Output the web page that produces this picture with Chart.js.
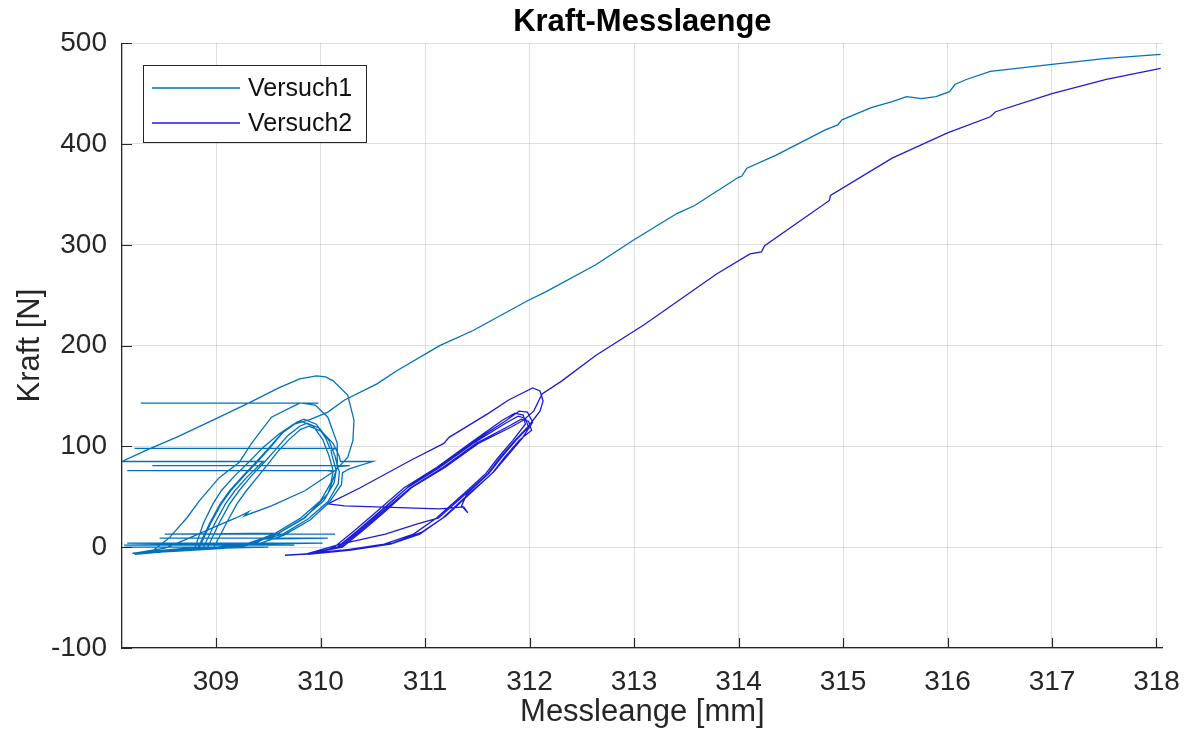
<!DOCTYPE html>
<html lang="de">
<head>
    <meta charset="UTF-8">
    <title>Kraft-Messlaenge</title>
    <script src="https://cdn.jsdelivr.net/npm/chart.js"></script>
    <style>
        body { margin: 0; background: #fff; }
        #wrap { width: 1197px; height: 738px; }
    </style>
</head>
<body>
    <div id="wrap"><canvas id="kraftChart" width="1197" height="738"></canvas></div>
    <script>
        const versuch1 = [
            [308.20,-6],[308.46,-5],
            // Zyklus 1
            [308.80,0],[308.88,24],[308.97,43],[309.05,56],[309.18,71],[309.31,84],[309.45,99],[309.60,112],
            [309.74,122],[309.81,125],[309.93,120],[310.02,107],[310.08,91],[310.12,76],
            [308.15,76],[310.07,76],[310.12,75],
            [310.10,64],[310.00,46],[309.81,29],[309.57,14],[309.33,4],[309.05,0],
            [308.13,0],[309.50,0],[309.05,-1],[308.60,-4],[308.20,-6],
            // Zyklus 2
            [308.50,-3],[308.84,0],[308.95,24],[309.05,43],[309.14,56],[309.27,71],[309.39,84],[309.52,99],
            [309.64,114],[309.77,124],[309.84,127],[309.96,122],[310.05,108],[310.09,98],
            [308.22,98],[310.14,98],[310.10,96],
            [310.11,91],[310.15,76],[310.13,64],[310.03,46],[309.84,29],[309.60,14],
            [308.51,13],[310.14,13],[309.58,13],
            [309.36,4],[308.12,2],[309.75,2],[309.30,2],
            [309.08,0],[308.70,-3],[308.22,-7],
            // Zyklus 3 (aeussere Schleife)
            [308.40,-3],[308.55,9],[308.72,29],[308.84,46],[309.03,69],[309.22,84],[309.34,103],[309.53,129],[309.80,143],
            [308.28,143],[309.98,143],[309.82,143],
            [309.95,141],[310.07,129],[310.16,103],[310.16,79],[310.07,53],[309.85,29],[309.60,14],[309.31,4],[308.93,-1],[308.30,-5],
            // Zyklus 4
            [308.60,-2],[308.92,0],[309.03,24],[309.13,43],[309.22,56],[309.34,71],[309.46,84],[309.58,98],
            [309.68,110],[309.80,120],[309.87,123],[309.99,118],[310.08,106],[310.14,90],[310.16,81],
            [308.39,81],[310.28,81],[310.16,80],
            [310.18,75],[310.17,63],[310.07,45],[309.88,28],[309.64,13],[309.50,9],
            [308.46,9],[310.07,9],[309.45,8],
            [309.38,4],[309.09,0],[308.70,-3],[308.25,-6],
            // Zyklus 5 mit grosser Schleife
            [308.55,-3],[308.88,0],[308.99,24],[309.09,43],[309.18,56],[309.30,70],[309.43,83],[309.45,85],
            [308.10,85],[308.35,97],[308.62,109],[308.95,125],[309.31,143],[309.60,158],[309.80,167],[309.96,170],
            [310.05,169],[310.12,165],[310.26,151],[310.32,126],[310.31,106],[310.26,89],[310.14,76],
            [309.85,56],[309.53,41],[309.27,31],[309.31,35],[309.19,29],[308.96,19],[308.72,8],[308.51,-1],[308.22,-6],
            // Zyklus 6
            [308.60,-3],[308.98,0],[309.10,24],[309.20,43],[309.29,56],[309.40,70],[309.50,83],[309.60,96],
            [309.70,107],[309.81,117],[309.89,120],[310.01,115],[310.12,103],[310.18,90],[310.19,85],
            [310.50,85],[310.28,78],[310.21,74],
            [310.20,62],[310.08,44],[309.90,27],[309.65,12],[309.40,3],
            [308.15,4],[310.02,4],[309.38,3],
            [309.11,-1],[308.60,-4],[308.22,-6],
            // letzte Belastung
            [308.50,-3],[308.83,0],[308.94,24],[309.04,43],[309.13,56],[309.26,71],[309.38,84],[309.51,99],
            [309.63,113],[309.75,122],[309.91,127],[310.07,134],[310.23,146],[310.54,162],[310.73,175],
            [311.14,200],[311.46,215],[311.99,245],[312.15,253],[312.63,280],[313.00,305],[313.41,331],
            [313.58,339],[314.00,367],[314.03,368],[314.08,376],[314.36,389],[314.83,414],[314.95,419],
            [314.99,424],[315.27,436],[315.47,442],[315.61,447],[315.68,446],[315.75,445],[315.89,447],
            [316.02,452],[316.07,459],[316.18,464],[316.41,472],[317.00,479],[317.52,485],[318.04,489]
        ];

        const versuch2 = [
            [309.66,-8],[309.98,-6],
            // Zyklus 1
            [310.13,0],[310.32,16],[310.51,33],[310.80,59],[311.11,79],[311.43,103],[311.74,126],[311.86,133],
            [311.94,131],[311.96,122],[311.84,106],[311.70,89],[311.58,73],[311.37,53],[311.11,29],[310.89,13],
            [310.61,3],[310.23,-3],[309.88,-7],
            // Zyklus 2 mit Ausreisser
            [310.16,0],[310.35,16],[310.54,33],[310.83,59],[311.14,79],[311.46,103],[311.77,123],[311.89,130],
            [311.96,128],[311.99,119],[311.87,106],[311.73,89],[311.61,73],[311.40,53],
            [311.35,41],[311.41,34],[311.37,40],[311.14,38],[310.83,39],[310.23,41],[310.07,43],
            [310.38,59],[310.86,86],[311.18,103],[311.23,109],[311.61,133],[311.80,146],[312.03,158],
            [312.10,155],[312.13,145],[312.10,135],[311.99,120],[311.86,106],[311.72,89],[311.60,73],
            [311.39,53],[311.13,29],[310.92,23],[310.62,13],[310.19,3],[309.85,-7],
            // Zyklus 3
            [310.19,0],[310.38,16],[310.57,33],[310.86,59],[311.17,79],[311.49,103],[311.80,120],[311.92,127],
            [311.99,125],[312.02,116],[311.90,106],[311.76,89],[311.64,73],[311.42,53],[311.17,29],[310.95,13],
            [310.67,3],[310.29,-3],[309.88,-7],
            // Zyklus 4
            [310.17,0],[310.36,16],[310.55,33],[310.84,60],[311.15,81],[311.47,105],[311.78,126],[311.90,135],
            [311.98,134],[312.03,124],[311.93,108],[311.79,91],[311.66,75],[311.45,55],[311.20,31],[310.97,15],
            [310.69,4],[310.31,-2],[309.90,-6],
            // letzte Belastung
            [310.21,0],[310.40,16],[310.59,33],[310.87,59],[311.19,79],[311.51,103],[311.82,119],[311.94,126],
            [312.04,135],[312.12,152],[312.31,165],[312.63,190],[313.10,221],[313.79,271],[314.11,291],
            [314.22,293],[314.25,299],[314.87,344],[314.88,349],[315.47,386],[316.00,411],[316.41,427],
            [316.46,432],[317.00,450],[317.52,464],[318.04,475]
        ];

        const seriesNames = ['Versuch1', 'Versuch2'];
        const seriesColors = ['#0072BD', '#1c1cd8'];
        const xTicks = [309, 310, 311, 312, 313, 314, 315, 316, 317, 318];
        const xRange = [308.1, 318.06];
        const yRange = [-100, 500];

        const FONT = '"Liberation Sans", Arial, Helvetica, sans-serif';
        const AXIS = '#262626';

        // MATLAB-artige Tickmarks nach innen + Legende im Plot
        const matlabStyle = {
            id: 'matlabStyle',
            afterLayout(chart) {
                // Titel ueber der Achsenflaeche zentrieren
                const t = chart.titleBlock, a = chart.chartArea;
                if (t) {
                    t.left = a.left;
                    t.right = a.right;
                    t.width = a.right - a.left;
                }
            },
            afterDatasetsDraw(chart) {
                const {ctx, chartArea, scales} = chart;
                ctx.save();
                ctx.strokeStyle = AXIS;
                ctx.lineWidth = 1.2;
                ctx.beginPath();
                scales.x.ticks.forEach(t => {
                    const px = Math.round(scales.x.getPixelForValue(t.value)) + 0.5;
                    ctx.moveTo(px, chartArea.bottom);
                    ctx.lineTo(px, chartArea.bottom - 10);
                });
                scales.y.ticks.forEach(t => {
                    const py = Math.round(scales.y.getPixelForValue(t.value)) + 0.5;
                    ctx.moveTo(chartArea.left, py);
                    ctx.lineTo(chartArea.left + 10, py);
                });
                ctx.stroke();

                // Legende
                const bx = 143.5, by = 65.5, bw = 223, bh = 77;
                ctx.fillStyle = '#fff';
                ctx.fillRect(bx, by, bw, bh);
                ctx.strokeStyle = AXIS;
                ctx.lineWidth = 1;
                ctx.strokeRect(bx, by, bw, bh);
                ctx.font = '25px ' + FONT;
                ctx.textBaseline = 'middle';
                seriesNames.forEach((name, i) => {
                    const ly = 88 + i * 35;
                    ctx.strokeStyle = seriesColors[i];
                    ctx.lineWidth = 1.3;
                    ctx.beginPath();
                    ctx.moveTo(152, ly);
                    ctx.lineTo(240, ly);
                    ctx.stroke();
                    ctx.fillStyle = '#111';
                    ctx.fillText(name, 248, ly + 1);
                });
                ctx.restore();
            }
        };

        const ctx = document.getElementById('kraftChart').getContext('2d');
        new Chart(ctx, {
            type: 'scatter',
            data: {
                datasets: [versuch1, versuch2].map((pts, i) => ({
                    label: seriesNames[i],
                    data: pts.map(p => ({x: p[0], y: p[1]})),
                    showLine: true,
                    borderColor: seriesColors[i],
                    backgroundColor: seriesColors[i],
                    borderWidth: 1.3,
                    pointRadius: 0,
                    tension: 0
                }))
            },
            options: {
                responsive: false,
                animation: false,
                layout: { padding: { left: 0, right: 25, top: 0, bottom: 0 } },
                plugins: {
                    legend: { display: false },
                    tooltip: { enabled: false },
                    title: {
                        display: true,
                        text: 'Kraft-Messlaenge',
                        color: '#000',
                        font: { family: FONT, size: 31, weight: 'bold' },
                        padding: { top: 4, bottom: 2 }
                    }
                },
                scales: {
                    x: {
                        type: 'linear',
                        min: xRange[0],
                        max: xRange[1],
                        afterBuildTicks: axis => { axis.ticks = xTicks.map(v => ({value: v})); },
                        afterFit: scale => { scale.height = 90; },
                        grid: { color: 'rgba(38,38,38,0.15)', lineWidth: 1, drawTicks: false },
                        border: { color: AXIS, width: 1.3 },
                        ticks: {
                            color: AXIS,
                            padding: 17,
                            maxRotation: 0,
                            font: { family: FONT, size: 28 },
                            callback: v => String(v)
                        },
                        title: {
                            display: true,
                            text: 'Messleange [mm]',
                            color: AXIS,
                            font: { family: FONT, size: 31 },
                            padding: { top: 0, bottom: 7 }
                        }
                    },
                    y: {
                        min: yRange[0],
                        max: yRange[1],
                        afterFit: scale => { scale.width = 122; },
                        grid: { color: 'rgba(38,38,38,0.15)', lineWidth: 1, drawTicks: false },
                        border: { color: AXIS, width: 1.3 },
                        ticks: {
                            stepSize: 100,
                            color: AXIS,
                            padding: 15,
                            font: { family: FONT, size: 28 },
                            callback: v => String(v)
                        },
                        title: {
                            display: true,
                            text: 'Kraft [N]',
                            color: AXIS,
                            font: { family: FONT, size: 31 },
                            padding: { top: 12, bottom: 0 }
                        }
                    }
                }
            },
            plugins: [matlabStyle]
        });
    </script>
</body>
</html>
